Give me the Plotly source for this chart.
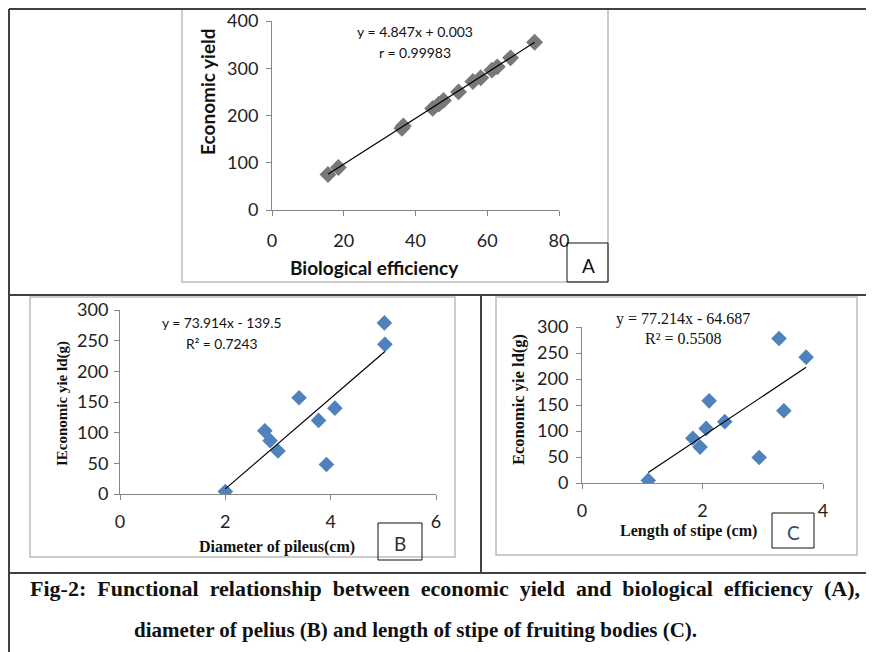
import plotly.graph_objects as go

W, H = 874, 652

# ---------------- data ----------------
bio_eff = [15.6, 18.5, 36.2, 36.6, 44.8, 46.5, 47.8, 52.0, 56.0, 58.2, 61.3, 62.8, 66.5, 73.2]
yield_a = [75, 90, 173, 178, 215, 224, 232, 250, 272, 280, 296, 303, 322, 355]
slope_a, icept_a = 4.847, 0.003

pileus_diam = [2.0, 2.75, 2.85, 3.0, 3.4, 3.77, 4.08, 3.92, 5.02, 5.03]
yield_b = [4, 103, 87, 70, 157, 120, 140, 48, 279, 244]
slope_b, icept_b = 73.914, -139.5

stipe_len = [1.10, 1.84, 1.96, 2.06, 2.11, 2.37, 2.94, 3.27, 3.35, 3.72]
yield_c = [5, 86, 69, 105, 158, 118, 49, 278, 139, 242]
slope_c, icept_c = 77.214, -64.687

ticks_a_x = [0, 20, 40, 60, 80]
ticks_a_y = [0, 100, 200, 300, 400]
ticks_b_x = [0, 2, 4, 6]
ticks_bc_y = [0, 50, 100, 150, 200, 250, 300]
ticks_c_x = [0, 2, 4]

caption_1 = "Fig-2: Functional relationship between economic yield and biological efficiency (A),"
caption_2 = "diameter of pelius (B) and length of stipe of fruiting bodies (C)."

# page body has an 8px margin: shift so that reference pixels line up
OFF = 8


def px(x):
    return (x - OFF) / W


def py(y):
    return 1 - (y - OFF) / H


fig = go.Figure()

GRAY_A = "#787878"
BLUE = "#4F81BD"


def add_panel(xs, ys, slope, icept, color, xa, ya, size):
    fig.add_trace(go.Scatter(x=xs, y=ys, mode="markers", xaxis=xa, yaxis=ya,
                             marker=dict(symbol="diamond", size=size, color=color,
                                         line=dict(width=0)),
                             showlegend=False, hoverinfo="skip"))
    x0, x1 = min(xs), max(xs)
    fig.add_trace(go.Scatter(x=[x0, x1], y=[slope * x0 + icept, slope * x1 + icept],
                             mode="lines", xaxis=xa, yaxis=ya,
                             line=dict(color="black", width=1.2),
                             showlegend=False, hoverinfo="skip"))


add_panel(bio_eff, yield_a, slope_a, icept_a, GRAY_A, "x", "y", 13)
add_panel(pileus_diam, yield_b, slope_b, icept_b, BLUE, "x2", "y2", 12)
add_panel(stipe_len, yield_c, slope_c, icept_c, BLUE, "x3", "y3", 12)

AX = dict(showline=True, linecolor="#868686", linewidth=1, ticks="outside",
          tickcolor="#868686", ticklen=5, showgrid=False, zeroline=False,
          fixedrange=True, automargin=False)
TICKFONT = dict(family="Lato", size=18, color="#222")

fig.update_layout(
    width=W, height=H, margin=dict(l=0, r=0, t=0, b=0, autoexpand=False),
    paper_bgcolor="white", plot_bgcolor="rgba(0,0,0,0)",
    xaxis=dict(AX, domain=[px(272), px(559)], range=[0, 80], tickvals=ticks_a_x,
               anchor="y", tickfont=TICKFONT, ticklabelstandoff=9),
    yaxis=dict(AX, domain=[py(210), py(21)], range=[0, 400], tickvals=ticks_a_y,
               anchor="x", tickfont=TICKFONT, ticklabelstandoff=4),
    xaxis2=dict(AX, domain=[px(120), px(436)], range=[0, 6], tickvals=ticks_b_x,
                anchor="y2", tickfont=TICKFONT, ticklabelstandoff=6),
    yaxis2=dict(AX, domain=[py(494), py(310)], range=[0, 300], tickvals=ticks_bc_y,
                anchor="x2", tickfont=TICKFONT, ticklabelstandoff=2),
    xaxis3=dict(AX, domain=[px(582), px(823)], range=[0, 4], tickvals=ticks_c_x,
                anchor="y3", tickfont=TICKFONT, ticklabelstandoff=6),
    yaxis3=dict(AX, domain=[py(483), py(327)], range=[0, 300], tickvals=ticks_bc_y,
                anchor="x3", tickfont=TICKFONT, ticklabelstandoff=4),
)

shapes = []


def line(x0, y0, x1, y1, color="#404040", width=2):
    shapes.append(dict(type="line", xref="paper", yref="paper",
                       x0=px(x0), y0=py(y0), x1=px(x1), y1=py(y1),
                       line=dict(color=color, width=width)))


def rect(x0, y0, x1, y1, color, width):
    shapes.append(dict(type="rect", xref="paper", yref="paper",
                       x0=px(x0), y0=py(y0), x1=px(x1), y1=py(y1),
                       line=dict(color=color, width=width), fillcolor="rgba(0,0,0,0)"))


# chart frames
rect(182, 9, 608, 282, "#bdbdbd", 1.5)
rect(30, 297, 455, 557, "#bdbdbd", 1.5)
rect(496, 297, 857, 555, "#bdbdbd", 1.5)
# letter boxes
rect(567, 243, 608, 282, "#111", 1)
rect(378, 523, 422, 560, "#111", 1)
rect(772, 513, 814, 548, "#111", 1)
# table lines
line(9, 9, 874, 9)
line(9, 9, 9, 652)
line(9, 295, 874, 295)
line(481, 295, 481, 573)
line(9, 573, 874, 573)

ann = []


def text(x, y, s, size, family="Lato", bold=False, angle=0, color="#111",
         xanchor="center"):
    if bold:
        s = "<b>" + s + "</b>"
    ann.append(dict(x=px(x), y=py(y), xref="paper", yref="paper", text=s,
                    showarrow=False, textangle=angle, xanchor=xanchor,
                    yanchor="middle", font=dict(family=family, size=size, color=color)))


# panel A texts
text(415, 31, "y = 4.847x + 0.003", 14)
text(415, 52, "r = 0.99983", 14)
text(207, 92, "Economic yield", 19, bold=True, angle=-90)
text(374, 267, "Biological efficiency", 19, bold=True)
text(588, 265, "A", 19)

# panel B texts
text(221, 322, "y = 73.914x - 139.5", 13.8)
text(222, 343, "R² = 0.7243", 13.8)
text(62, 404, "IEconomic yie ld(g)", 15, family="Liberation Serif", bold=True, angle=-90)
text(277, 547, "Diameter of pileus(cm)", 16, family="Liberation Serif", bold=True)
text(400, 543, "B", 19, color="#333")

# panel C texts
text(683, 319, "y = 77.214x - 64.687", 16, family="Liberation Serif")
text(683, 339, "R² = 0.5508", 16, family="Liberation Serif")
text(518, 400, "Economic yie ld(g)", 16.5, family="Liberation Serif", bold=True, angle=-90)
text(688, 531, "Length of stipe (cm)", 16, family="Liberation Serif", bold=True)
text(793, 532, "C", 19, color="#2c4a78")

# caption (first line spans the full width in the reference)
text(445, 588, caption_1.replace(" ", " \u00a0"), 22, family="Liberation Serif", bold=True)
text(415, 630, caption_2, 21, family="Liberation Serif", bold=True)

fig.update_layout(shapes=shapes, annotations=ann)
fig.write_html("out.html")
